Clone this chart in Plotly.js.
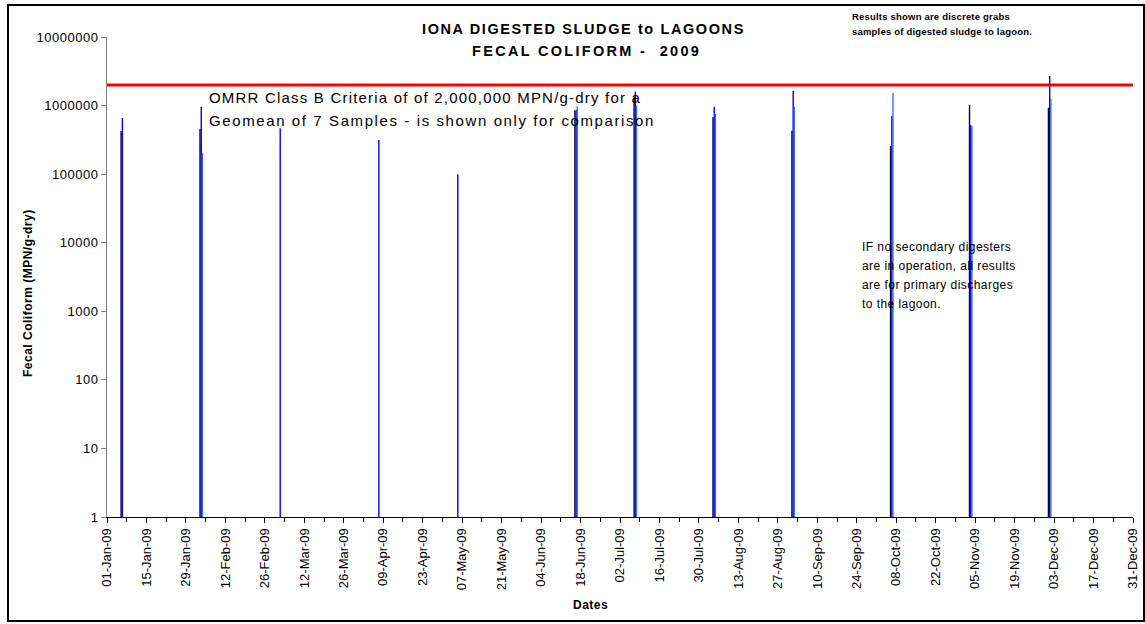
<!DOCTYPE html>
<html>
<head>
<meta charset="utf-8">
<script src="https://cdn.plot.ly/plotly-3.0.1.min.js"></script>
<style>
html,body{margin:0;padding:0;background:#fff;}
#chart{width:1145px;height:624px;}
.ytick text{letter-spacing:0.5px;}
g.annotation[data-index="0"] text{letter-spacing:1.6px;}
g.annotation[data-index="1"] text{letter-spacing:2.3px;}
g.annotation[data-index="2"] text, g.annotation[data-index="3"] text{letter-spacing:0.2px;}
g.annotation[data-index="4"] text{letter-spacing:1.2px;}
g.annotation[data-index="5"] text{letter-spacing:1.6px;}
g.annotation[data-index="6"] text, g.annotation[data-index="7"] text,
g.annotation[data-index="8"] text, g.annotation[data-index="9"] text{letter-spacing:0.45px;}
g.annotation[data-index="10"] text, g.annotation[data-index="11"] text{letter-spacing:0.5px;}
</style>
</head>
<body>
<div id="chart"></div>
<script>
// Sample dates (2009)
const sampleDates = ["2009-01-06","2009-02-03","2009-03-03","2009-04-07","2009-05-05","2009-06-16",
                     "2009-07-07","2009-08-04","2009-09-01","2009-10-06","2009-11-03","2009-12-01"];
// Fecal coliform, MPN/g-dry (three grab series)
const seriesBlack = [427000, 457000, null, null, null, 850000, 1350000, 680000, 430000, 258000, 1020000, 930000];
const seriesBlue  = [660000, 955000, 467000, 316000, 100000, 870000, 1600000, 960000, 1630000, 705000, 520000, 2700000];
const seriesLight = [null, 205000, null, null, null, 980000, 1000000, 760000, 960000, 1520000, 500000, 1250000];
// OMRR Class B criterion
const criterionDates = ["2009-01-01","2009-12-31"];
const criterionValues = [2000000, 2000000];
const tickLabels = "%d-%b-%y";

const DAY = 86400000;
const font = "Arial, 'Liberation Sans', sans-serif";

function barTrace(y, color, off) {
  return {type:'bar', x: sampleDates, y: y, marker:{color: color, line:{width:0}},
          width: 0.5*DAY, offset: off*DAY, showlegend:false, hoverinfo:'x+y'};
}

const traces = [
  barTrace(seriesBlack, '#000033', -0.25),
  barTrace(seriesBlue, '#0000FF', 0.2),
  barTrace(seriesLight, '#3D6BFF', 0.6),
  {type:'scatter', mode:'lines', x: criterionDates, y: criterionValues,
   line:{color:'#FF0000', width:3}, showlegend:false, hoverinfo:'y'}
];

// pixel -> paper helpers (plot area: x 107..1133, y 37..517)
const L = 107, R = 1133, T = 37, B = 517;
const px = v => (v - L) / (R - L);
const py = v => (B - v) / (B - T);

function txt(x, y, text, size, bold, anchor, angle) {
  return {xref:'paper', yref:'paper', x: px(x), y: py(y), xanchor: anchor || 'left', yanchor:'middle',
          text: bold ? '<b>' + text + '</b>' : text, showarrow:false, textangle: angle || 0,
          font:{family: font, size: size, color:'#000'}, align:'left'};
}

const layout = {
  width: 1145, height: 624,
  margin: {l: L, r: 1145 - R, t: T, b: 624 - B, pad: 0},
  paper_bgcolor: '#fff', plot_bgcolor: '#fff',
  barmode: 'overlay',
  font: {family: font, size: 11, color: '#000'},
  xaxis: {
    type: 'date', range: ['2009-01-01', '2009-12-31'],
    tick0: '2009-01-01', dtick: 14*DAY, tickformat: tickLabels,
    tickangle: -90, ticks: 'outside', ticklen: 5, tickcolor: '#000',
    minor: {tick0: '2009-01-08', dtick: 14*DAY, ticks: 'outside', ticklen: 4, tickcolor: '#000'},
    showline: true, linecolor: '#000', linewidth: 1, showgrid: false, zeroline: false,
    tickfont: {family: font, size: 13, color: '#000'},
    fixedrange: true
  },
  yaxis: {
    type: 'log', range: [0, 7], dtick: 1, tickformat: 'd',
    ticks: 'outside', ticklen: 5, tickcolor: '#808080',
    showline: true, linecolor: '#808080', linewidth: 1, showgrid: false, zeroline: false,
    tickfont: {family: font, size: 13, color: '#000'},
    fixedrange: true
  },
  shapes: [
    {type:'rect', xref:'paper', yref:'paper', x0: px(8), x1: px(1144), y0: py(621), y1: py(5),
     line:{color:'#000', width:2}, fillcolor:'rgba(0,0,0,0)', layer:'above'}
  ],
  annotations: [
    txt(420, 29, 'IONA DIGESTED SLUDGE to LAGOONS', 14.5, true),
    txt(470, 51, 'FECAL COLIFORM -  2009', 14.5, true),
    txt(850, 16, 'Results shown are discrete grabs', 9.5, true),
    txt(850, 32, 'samples of digested sludge to lagoon.', 9.5, true),
    txt(207, 97, 'OMRR Class B Criteria of of 2,000,000 MPN/g-dry for a', 15, false),
    txt(207, 120, 'Geomean of 7 Samples - is shown only for comparison', 15, false),
    txt(860, 247, 'IF no secondary digesters', 12, false),
    txt(860, 266, 'are in operation, all results', 12, false),
    txt(860, 285, 'are for primary discharges', 12, false),
    txt(860, 304, 'to the lagoon.', 12, false),
    txt(589, 605, 'Dates', 12, true, 'center'),
    txt(28, 300, 'Fecal Coliform (MPN/g-dry)', 12, true, 'center', -90)
  ]
};

Plotly.newPlot('chart', traces, layout, {displayModeBar:false, staticPlot:true});
</script>
</body>
</html>
